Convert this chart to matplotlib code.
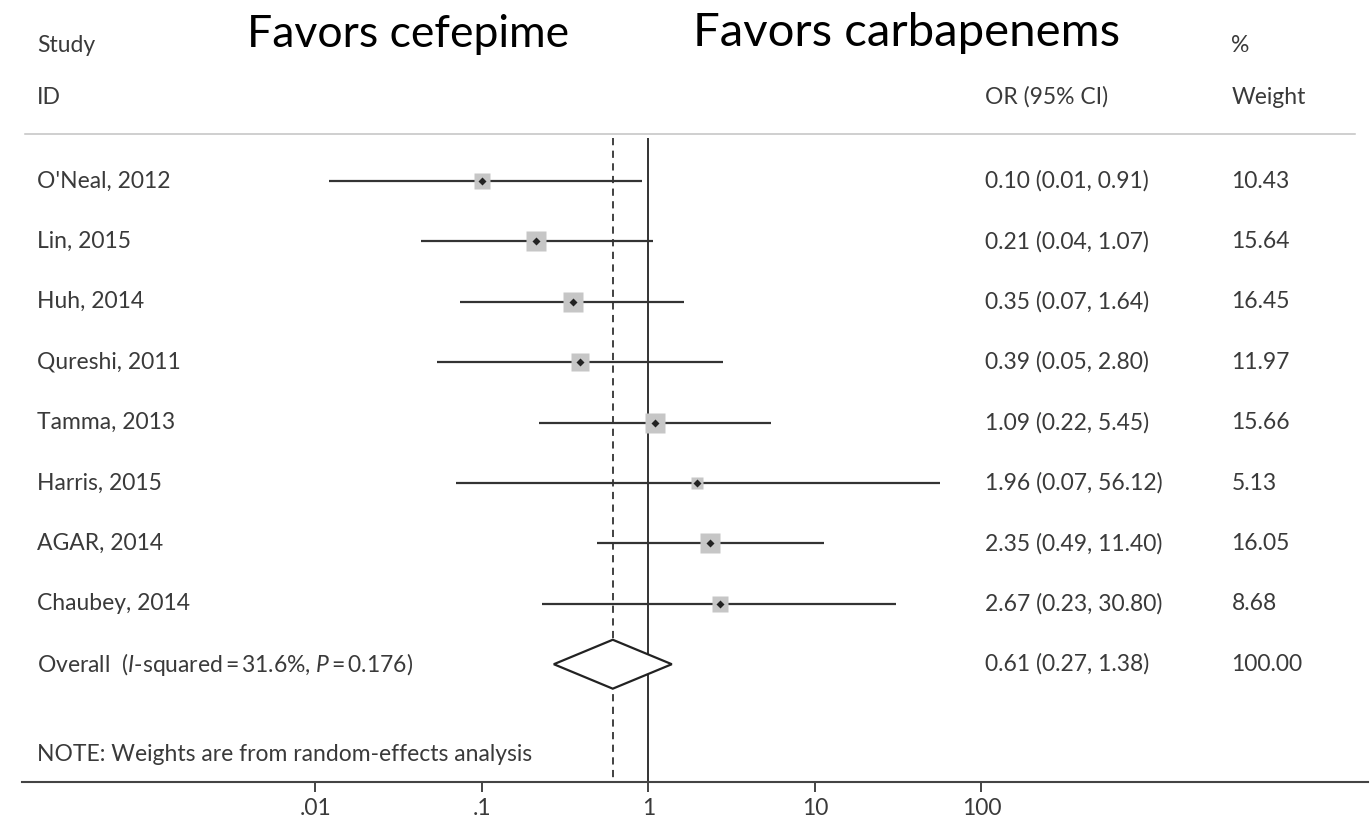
import numpy as np
import matplotlib.pyplot as plt

# data
studies = ["O'Neal, 2012", "Lin, 2015", "Huh, 2014", "Qureshi, 2011",
           "Tamma, 2013", "Harris, 2015", "AGAR, 2014", "Chaubey, 2014"]
odds = [0.10, 0.21, 0.35, 0.39, 1.09, 1.96, 2.35, 2.67]
ci_low = [0.012, 0.043, 0.074, 0.054, 0.22, 0.07, 0.49, 0.23]
ci_high = [0.91, 1.07, 1.64, 2.80, 5.45, 56.12, 11.40, 30.80]
weights = [10.43, 15.64, 16.45, 11.97, 15.66, 5.13, 16.05, 8.68]

overall = 0.61
overall_low = 0.27
overall_high = 1.38
overall_weight = 100.00
i_squared = 31.6
p_value = 0.176

tick_vals = [0.01, 0.1, 1, 10, 100]
tick_labels = [".01", ".1", "1", "10", "100"]

plt.rcParams['font.family'] = ['Lato', 'DejaVu Sans']
plt.rcParams['mathtext.fontset'] = 'custom'
plt.rcParams['mathtext.rm'] = 'Lato'
plt.rcParams['mathtext.it'] = 'Lato:italic'

txt_col = '#3a3a3a'
line_col = '#333333'

fig = plt.figure(figsize=(13.7, 8.36), dpi=100)
ax = fig.add_axes([22 / 1370, 54 / 836, 1346 / 1370, 782 / 836])
ax.set_xscale('log')
ax.set_xlim(10 ** (-626.5 / 166.5), 10 ** (719.5 / 166.5))
ax.set_ylim(9.95, -2.997)

for s in ['top', 'left', 'right']:
    ax.spines[s].set_visible(False)
ax.spines['bottom'].set_linewidth(1.5)
ax.spines['bottom'].set_color('#444444')
ax.set_yticks([])
ax.set_xticks(tick_vals)
ax.set_xticklabels(tick_labels)
ax.xaxis.set_minor_locator(plt.NullLocator())
ax.tick_params(axis='x', direction='out', length=7.5, width=1.4,
               color='#444444', labelsize=16.5, labelcolor=txt_col, pad=4)

tr = ax.get_yaxis_transform()
fs = 16.5

# header
ax.text(0.0111, -2.25, "Study", transform=tr, fontsize=fs, color=txt_col, va='center')
ax.text(0.0111, -1.39, "ID", transform=tr, fontsize=fs, color=txt_col, va='center')
ax.text(0.8985, -2.25, "%", transform=tr, fontsize=fs, color=txt_col, va='center')
ax.text(0.7155, -1.39, "OR (95% CI)", transform=tr, fontsize=fs, color=txt_col, va='center')
ax.text(0.8985, -1.39, "Weight", transform=tr, fontsize=fs, color=txt_col, va='center')
ax.text(0.167, -2.43, "Favors cefepime", transform=tr, fontsize=32, color='black', va='center')
ax.text(0.4985, -2.45, "Favors carbapenems", transform=tr, fontsize=34, color='black', va='center')

ax.axhline(-0.778, xmin=0.002, xmax=0.990, color='#c2c2c2', lw=1.1)

# reference lines
ax.vlines(1, -0.72, 9.95, color=line_col, lw=1.4)
ax.vlines(overall, -0.72, 9.95, color=line_col, lw=1.3, linestyles=(0, (4, 3)))

rows = np.arange(len(studies))
for i in rows:
    ax.hlines(i, ci_low[i], ci_high[i], color=line_col, lw=1.6, zorder=2)
    side = 5.17 * np.sqrt(weights[i]) * 0.72
    ax.plot(odds[i], i, marker='s', markersize=side, color='#c6c6c6', zorder=3, mec='none')
    ax.plot(odds[i], i, marker='D', markersize=4.2, color='#222222', zorder=4, mec='none')
    ax.text(0.0111, i, studies[i], transform=tr, fontsize=fs, color=txt_col, va='center')
    ax.text(0.7155, i, "%.2f (%.2f, %.2f)" % (odds[i], ci_low[i], ci_high[i]),
            transform=tr, fontsize=fs, color=txt_col, va='center')
    ax.text(0.8985, i, "%.2f" % weights[i], transform=tr, fontsize=fs, color=txt_col, va='center')

# overall diamond
yo = len(studies)
h = 0.405
ax.fill([overall_low, overall, overall_high, overall, overall_low],
        [yo, yo - h, yo, yo + h, yo], facecolor='white', edgecolor='#222222', lw=1.6, zorder=3)
ax.text(0.0111, yo, "Overall  ($\\mathit{I}$-squared\u2009=\u2009%.1f%%, $\\mathit{P}$\u2009=\u2009%.3f)" % (i_squared, p_value),
        transform=tr, fontsize=fs, color=txt_col, va='center')
ax.text(0.7155, yo, "%.2f (%.2f, %.2f)" % (overall, overall_low, overall_high),
        transform=tr, fontsize=fs, color=txt_col, va='center')
ax.text(0.8985, yo, "%.2f" % overall_weight, transform=tr, fontsize=fs, color=txt_col, va='center')

ax.text(0.0111, 9.50, "NOTE: Weights are from random-effects analysis", transform=tr,
        fontsize=fs, color=txt_col, va='center')

fig.savefig('out.png', dpi=100)
